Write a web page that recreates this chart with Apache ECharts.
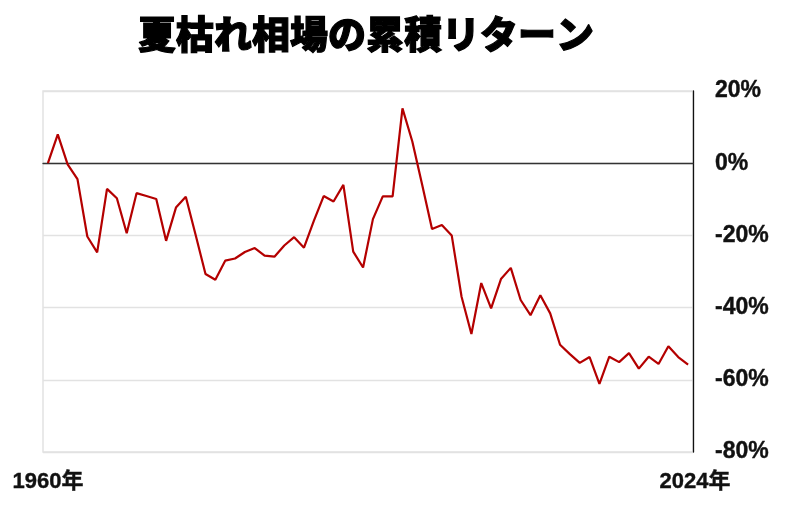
<!DOCTYPE html>
<html>
<head>
<meta charset="utf-8">
<script src="https://cdn.jsdelivr.net/npm/echarts@6/dist/echarts.min.js"></script>
<style>
  html, body { margin: 0; padding: 0; background: #fff; }
  #chart { width: 800px; height: 507px; }
</style>
</head>
<body>
<div id="chart"></div>
<script>
// 起点（0%）＋ 1960年〜2024年の累積リターン（%）
var returns = [
    0, 8.0, -0.3, -4.4, -20.3, -24.7, -7.1, -9.7, -19.4, -8.3,
    -9.1, -9.9, -21.5, -12.3, -9.3, -19.9, -30.7, -32.3, -27.0, -26.4,
    -24.6, -23.5, -25.6, -25.9, -22.8, -20.5, -23.4, -16.0, -9.1, -10.6,
    -6.0, -24.5, -28.9, -15.5, -9.2, -9.2, 15.2, 6.0, -6.0, -18.2,
    -17.1, -20.0, -37.0, -47.3, -33.2, -40.2, -32.1, -29.0, -37.9, -42.1,
    -36.6, -41.6, -50.3, -52.9, -55.3, -53.7, -61.1, -53.6, -55.1, -52.6,
    -56.9, -53.6, -55.6, -50.7, -53.7, -55.8
];
var tickLabels = ['1960年', '2024年'];
var yTicks = { min: -80, max: 20, interval: 20 };

var categories = [];
for (var i = 0; i < returns.length; i++) {
    categories.push(String(1959 + i));
}

var myChart = echarts.init(document.getElementById('chart'));
var boldFont = '"Liberation Sans", "Noto Sans CJK JP", sans-serif';

var option = {
    animation: false,
    backgroundColor: '#fff',
    title: {
        text: '夏枯れ相場の累積リターン',
        left: 361,
        top: 10,
        textAlign: 'center',
        textStyle: {
            fontFamily: '"Noto Sans CJK JP", sans-serif',
            fontWeight: 900,
            fontSize: 38,
            color: '#000',
            textBorderColor: '#000',
            textBorderWidth: 1.2
        }
    },
    grid: {
        left: 43,
        right: 107,
        top: 91,
        bottom: 55,
        show: true,
        borderColor: '#e2e2e2',
        borderWidth: 1.5,
        containLabel: false
    },
    xAxis: {
        type: 'category',
        data: categories,
        boundaryGap: true,
        axisLine: { onZero: true, lineStyle: { color: '#333', width: 1.3 } },
        axisTick: { show: false },
        splitLine: { show: false },
        axisLabel: {
            interval: function (index) {
                return index === 0 || index === categories.length - 1;
            },
            formatter: function (value, index) {
                return index === 0 ? tickLabels[0] : '{r|' + tickLabels[1] + '}';
            },
            rich: {
                r: {
                    padding: [0, 0, 0, 14],
                    fontFamily: boldFont,
                    fontWeight: 'bold',
                    fontSize: 22,
                    color: '#111',
                    textBorderColor: '#111',
                    textBorderWidth: 0.4
                }
            },
            margin: 19,
            fontFamily: boldFont,
            fontWeight: 'bold',
            fontSize: 22,
            color: '#111',
            textBorderColor: '#111',
            textBorderWidth: 0.4,
            hideOverlap: false
        }
    },
    yAxis: {
        type: 'value',
        position: 'right',
        min: yTicks.min,
        max: yTicks.max,
        interval: yTicks.interval,
        axisLine: { show: true, lineStyle: { color: '#111', width: 1.3 } },
        axisTick: { show: false },
        splitLine: { show: true, lineStyle: { color: '#e2e2e2', width: 1.3 } },
        axisLabel: {
            margin: 22,
            padding: [5, 0, 0, 0],
            formatter: '{value}%',
            fontFamily: boldFont,
            fontWeight: 'bold',
            fontSize: 23,
            color: '#111',
            textBorderColor: '#111',
            textBorderWidth: 0.4
        }
    },
    series: [{
        name: '累積リターン',
        type: 'line',
        data: returns,
        symbol: 'none',
        lineStyle: { color: '#b40000', width: 2.2 },
        z: 5
    }]
};
myChart.setOption(option);
</script>
</body>
</html>
